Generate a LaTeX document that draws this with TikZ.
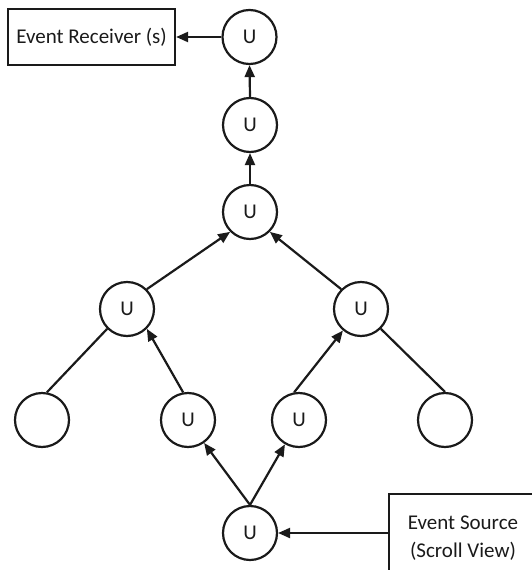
\documentclass[tikz,border=0pt]{standalone}
\usepackage{fontspec}
\setmainfont{Carlito}
\usetikzlibrary{arrows.meta}
\definecolor{ink}{HTML}{1A1A1A}
\begin{document}
\begin{tikzpicture}[x=1pt,y=-1pt,
  every node/.style={font=\fontsize{21}{28}\selectfont, text=ink},
  unode/.style={circle, draw=ink, line width=2.2pt, minimum size=54pt, inner sep=0pt},
  boxnode/.style={draw=ink, line width=2.2pt, inner sep=0pt, align=center},
  arr/.style={draw=ink, line width=2.2pt, -{Triangle[length=12pt,width=10pt]}},
  ln/.style={draw=ink, line width=2.2pt}]
\useasboundingbox (0,0) rectangle (532,570);
\clip (0,0) rectangle (532,570);
% nodes
\node[unode] (u1) at (249.5,37) {U};
\node[unode] (u2) at (250,125) {U};
\node[unode] (u3) at (250,212) {U};
\node[unode] (ul) at (127,309) {U};
\node[unode] (ur) at (361,309) {U};
\node[unode] (el) at (42,420) {};
\node[unode] (ml) at (188,420) {U};
\node[unode] (mr) at (299,420) {U};
\node[unode] (er) at (445,420) {};
\node[unode] (ub) at (250,533) {U};
\node[boxnode, minimum width=167pt, minimum height=56pt] (recv) at (91.5,37) {Event Receiver (s)};
\node[boxnode, minimum width=148pt, minimum height=88pt] (src) at (463,538) {Event Source\\(Scroll View)};
% connectors
\draw[arr] (u1.west) -- (recv.east);
\draw[arr] (u2.north) -- (u1.south);
\draw[arr] (u3.north) -- (u2.south);
\draw[arr] (ul.45) -- (u3.225);
\draw[arr] (ur.135) -- (u3.-45);
\draw[ln] (el.80) -- (ul.225);
\draw[arr] (ml.100) -- (ul.-45);
\draw[arr] (mr.100) -- (ur.230);
\draw[ln] (er.north) -- (ur.-45);
\draw[arr] (ub.north) -- (ml.-55);
\draw[arr] (ub.north) -- (mr.-120);
\draw[arr] (src.west |- ub.east) -- (ub.east);
\end{tikzpicture}
\end{document}
